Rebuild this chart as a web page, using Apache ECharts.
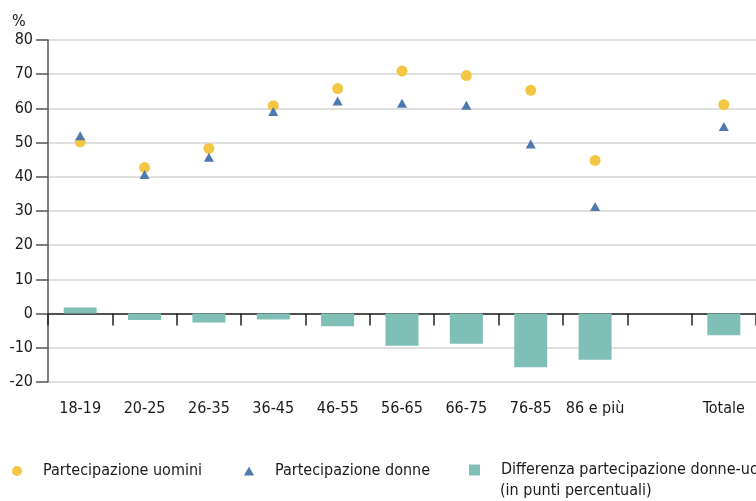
<!DOCTYPE html>
<html>
<head>
<meta charset="utf-8">
<script src="https://cdn.jsdelivr.net/npm/echarts@6/dist/echarts.min.js"></script>
<style>
html,body{margin:0;padding:0;background:#fff;}
#chart{width:756px;height:501px;}
</style>
</head>
<body>
<div id="chart"></div>
<script>
var categories = ['18-19','20-25','26-35','36-45','46-55','56-65','66-75','76-85','86 e più','','Totale'];
var uomini = [50.2, 42.7, 48.3, 60.8, 65.8, 70.9, 69.6, 65.3, 44.8, null, 61.1];
var donne  = [52.0, 40.7, 45.7, 59.1, 62.2, 61.5, 60.9, 49.6, 31.3, null, 54.7];
var differenza = [1.8, -1.9, -2.6, -1.7, -3.7, -9.4, -8.8, -15.7, -13.5, null, -6.3];
var yTicks = {min: -20, max: 80, interval: 10};
var names = ['Partecipazione uomini', 'Partecipazione donne', 'Differenza partecipazione donne-uomini'];
var noteText = '(in punti percentuali)';

var FONT = "'DejaVu Sans Condensed', 'Liberation Sans Narrow', sans-serif";
var FS = 16;
var TXT = '#1a1a1a';
var cYellow = '#F3C744', cBlue = '#4E79AD', cTeal = '#80BFB6';

function toData(a){ return a.map(function(v){ return v === null ? '-' : v; }); }

function legendAt(left, top, name, icon, w, h){
  return {
    left: left, top: top, orient: 'horizontal', padding: 0,
    data: [{name: name, icon: icon}],
    itemWidth: w, itemHeight: h,
    selectedMode: false,
    textStyle: {fontFamily: FONT, fontSize: FS, color: TXT, padding: [0,0,0,16]}
  };
}

var chart = echarts.init(document.getElementById('chart'), null, {renderer: 'canvas'});
chart.setOption({
  animation: false,
  textStyle: {fontFamily: FONT},
  title: {text: '%', left: 12, top: 14, padding: 0, textStyle: {fontFamily: FONT, fontSize: FS, fontWeight: 'normal', color: TXT}},
  grid: {left: 48, top: 40, width: 718, height: 342, containLabel: false},
  legend: [
    legendAt(12, 463, names[0], 'circle', 10, 10),
    legendAt(244, 463, names[1], 'triangle', 10, 9),
    legendAt(469, 462, names[2], 'rect', 11, 11)
  ],
  graphic: [{
    type: 'text', left: 500, top: 483,
    style: {text: noteText, font: FS + 'px ' + FONT, fill: TXT}
  }],
  xAxis: [{
    type: 'category', data: categories, position: 'bottom',
    axisLine: {show: false, onZero: false},
    axisTick: {show: false},
    axisLabel: {margin: 19, fontSize: FS, color: TXT, fontFamily: FONT, interval: 0},
    splitLine: {show: false}
  }, {
    type: 'category', data: categories, position: 'bottom',
    axisLine: {show: true, onZero: true, lineStyle: {color: '#222', width: 1.5}},
    axisTick: {show: true, length: 12, lineStyle: {color: '#222', width: 1.5}, interval: 0},
    axisLabel: {show: false},
    splitLine: {show: false}
  }],
  yAxis: {
    type: 'value', min: yTicks.min, max: yTicks.max, interval: yTicks.interval,
    axisLine: {show: true, lineStyle: {color: '#555', width: 1.5}},
    axisTick: {show: true, length: 12, lineStyle: {color: '#555', width: 1.5}},
    axisLabel: {margin: 15, fontSize: FS, color: TXT, fontFamily: FONT},
    splitLine: {show: true, lineStyle: {color: '#d4d4d4', width: 1.5}}
  },
  series: [{
    name: names[2], type: 'bar', xAxisIndex: 0, data: toData(differenza),
    barWidth: 33, itemStyle: {color: cTeal}, z: 1
  }, {
    name: names[0], type: 'scatter', xAxisIndex: 0, data: toData(uomini),
    symbol: 'circle', symbolSize: 11, itemStyle: {color: cYellow, opacity: 1}, z: 3
  }, {
    name: names[1], type: 'scatter', xAxisIndex: 0, data: toData(donne),
    symbol: 'triangle', symbolSize: [10, 9], itemStyle: {color: cBlue, opacity: 1}, z: 4
  }]
});
</script>
</body>
</html>
